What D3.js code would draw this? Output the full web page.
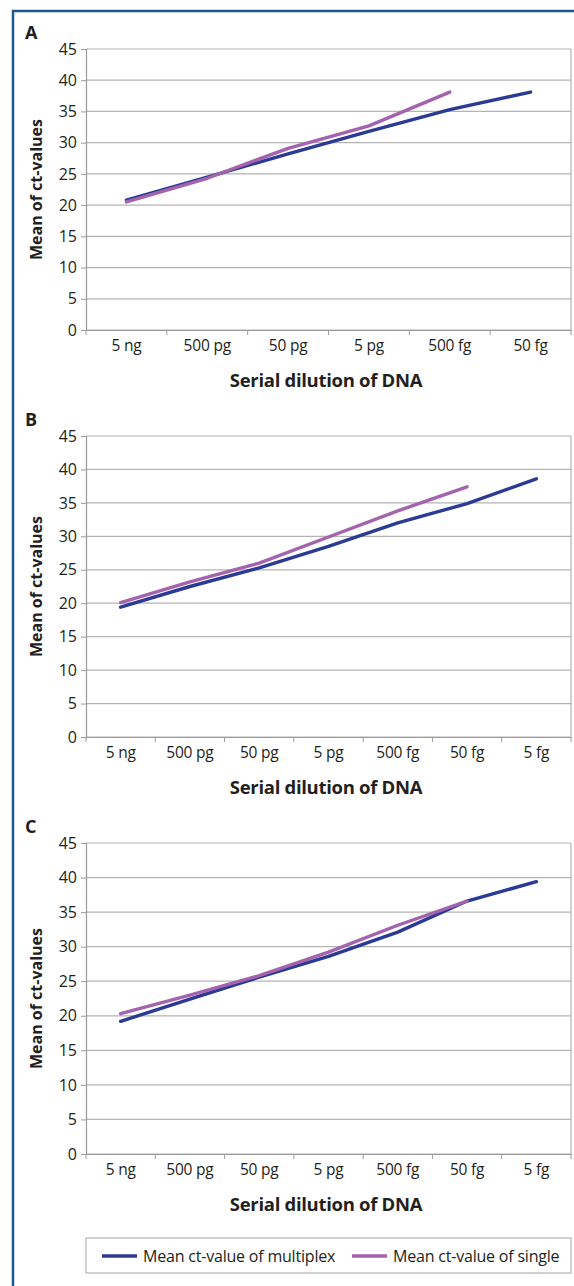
<!DOCTYPE html>
<html>
<head>
<meta charset="utf-8">
<script src="https://cdn.jsdelivr.net/npm/d3@7"></script>
<style>
  body { margin: 0; background: #fff; }
  text { font-family: "Open Sans", "Noto Sans", sans-serif; fill: #231f20; }
</style>
</head>
<body>
<div id="chart"></div>
<script>
const WIDTH = 574;
const HEIGHT = 1286;

// tick labels
const dilutionsA = ['5 ng', '500 pg', '50 pg', '5 pg', '500 fg', '50 fg'];
const dilutionsBC = ['5 ng', '500 pg', '50 pg', '5 pg', '500 fg', '50 fg', '5 fg'];
const yTicks = [0, 5, 10, 15, 20, 25, 30, 35, 40, 45];

// values
const multiplexA = [20.8, 24.5, 28.2, 31.8, 35.3, 38.1];
const singleA = [20.5, 24.3, 29.1, 32.7, 38.1];
const multiplexB = [19.4, 22.5, 25.3, 28.5, 32.0, 34.9, 38.6];
const singleB = [20.1, 23.2, 26.0, 29.9, 33.8, 37.4];
const multiplexC = [19.2, 22.4, 25.6, 28.6, 32.1, 36.6, 39.4];
const singleC = [20.3, 23.0, 25.8, 29.2, 33.1, 36.6];

const seriesNames = ['Mean ct-value of multiplex', 'Mean ct-value of single'];
const colors = ['#2b3a94', '#a463ad'];

const svg = d3.select('#chart')
  .append('svg')
  .attr('width', WIDTH)
  .attr('height', HEIGHT);

// outer frame
svg.append('path')
  .attr('d', `M13,${HEIGHT} L13,11 L${WIDTH},11`)
  .attr('fill', 'none')
  .attr('stroke', '#1d5a8c')
  .attr('stroke-width', 2.5);

function drawPanel(p) {
  const g = svg.append('g');
  const left = 86, right = 571;

  const x = d3.scaleBand().domain(p.cats).range([left, right]);
  const y = d3.scaleLinear().domain([0, 45]).range([p.bottom, p.top]);

  // grid lines
  g.selectAll('.grid')
    .data(yTicks)
    .join('line')
    .attr('x1', left).attr('x2', right)
    .attr('y1', d => y(d)).attr('y2', d => y(d))
    .attr('stroke', '#b3b3b3')
    .attr('stroke-width', 1.2);

  // right edge
  g.append('line')
    .attr('x1', right).attr('x2', right)
    .attr('y1', y(45)).attr('y2', y(0))
    .attr('stroke', '#b3b3b3').attr('stroke-width', 1.2);

  // y axis
  const yAxis = g.append('g')
    .attr('transform', `translate(${left},0)`)
    .call(d3.axisLeft(y).tickValues(yTicks).tickSize(5).tickPadding(4));
  yAxis.select('.domain').attr('stroke', '#9a9a9a').attr('stroke-width', 1.2);
  yAxis.selectAll('.tick line').attr('stroke', '#9a9a9a');
  yAxis.selectAll('text').style('font-size', '16px').attr('fill', '#231f20');

  // x axis, ticks between categories
  const xAxis = g.append('g')
    .attr('transform', `translate(0,${p.bottom})`)
    .call(d3.axisBottom(x).tickSize(0).tickPadding(10));
  xAxis.select('.domain').attr('stroke', '#9a9a9a').attr('stroke-width', 1.2);
  xAxis.selectAll('text').style('font-size', '15.5px')
    .style('letter-spacing', '-0.2px').attr('fill', '#231f20');
  const bounds = p.cats.map(c => x(c)).concat([right]);
  xAxis.selectAll('.sep')
    .data(bounds)
    .join('line')
    .attr('x1', d => d).attr('x2', d => d)
    .attr('y1', 0).attr('y2', 5)
    .attr('stroke', '#9a9a9a');

  // lines
  const line = d3.line()
    .x((d, i) => x(p.cats[i]) + x.bandwidth() / 2)
    .y(d => y(d));

  [p.multiplex, p.single].forEach((vals, k) => {
    g.append('path')
      .datum(vals)
      .attr('d', line)
      .attr('fill', 'none')
      .attr('stroke', colors[k])
      .attr('stroke-width', 3.4)
      .attr('stroke-linecap', 'round')
      .attr('stroke-linejoin', 'round');
  });

  // labels
  g.append('text')
    .attr('x', 25).attr('y', p.top - 10)
    .style('font-size', '18px').style('font-weight', 'bold')
    .text(p.label);

  g.append('text')
    .attr('transform', `translate(42,${(p.top + p.bottom) / 2}) rotate(-90)`)
    .attr('text-anchor', 'middle')
    .style('font-size', '16px').style('font-weight', 'bold')
    .text('Mean of ct-values');

  g.append('text')
    .attr('x', 326).attr('y', p.bottom + 57)
    .attr('text-anchor', 'middle')
    .style('font-size', '18.5px').style('font-weight', 'bold')
    .style('letter-spacing', '-0.3px')
    .text('Serial dilution of DNA');
}

drawPanel({ label: 'A', cats: dilutionsA, multiplex: multiplexA, single: singleA, top: 49, bottom: 330 });
drawPanel({ label: 'B', cats: dilutionsBC, multiplex: multiplexB, single: singleB, top: 436, bottom: 737 });
drawPanel({ label: 'C', cats: dilutionsBC, multiplex: multiplexC, single: singleC, top: 843, bottom: 1154 });

// legend
const legend = svg.append('g');
legend.append('rect')
  .attr('x', 86).attr('y', 1238)
  .attr('width', 485).attr('height', 35)
  .attr('fill', 'none')
  .attr('stroke', '#b3b3b3').attr('stroke-width', 1.2);

const legendX = [102, 352];
seriesNames.forEach((name, k) => {
  legend.append('line')
    .attr('x1', legendX[k]).attr('x2', legendX[k] + 35)
    .attr('y1', 1256).attr('y2', 1256)
    .attr('stroke', colors[k]).attr('stroke-width', 3.4);
  legend.append('text')
    .attr('x', legendX[k] + 41).attr('y', 1261.5)
    .style('font-size', '16px')
    .style('letter-spacing', '-0.2px')
    .text(name);
});
</script>
</body>
</html>
